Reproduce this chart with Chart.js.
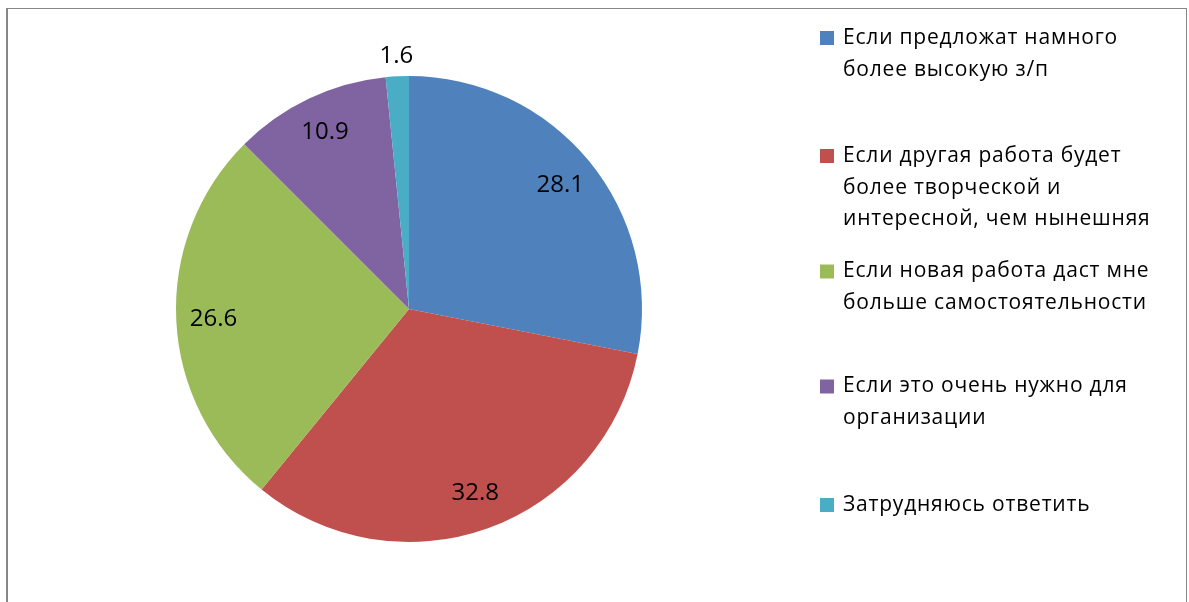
<!DOCTYPE html>
<html>
<head>
<meta charset="utf-8">
<script src="https://cdn.jsdelivr.net/npm/chart.js@4/dist/chart.umd.min.js"></script>
<style>
  html, body { margin: 0; padding: 0; background: #ffffff; }
  #wrap { position: relative; width: 1189px; height: 602px; }
</style>
</head>
<body>
<div id="wrap"><canvas id="chart" width="1189" height="602"></canvas></div>
<script>
// Categories (multi-line legend labels) and shares (%)
const categories = [
  ['Если предложат намного', 'более высокую з/п'],
  ['Если другая работа будет', 'более творческой и', 'интересной, чем нынешняя'],
  ['Если новая работа даст мне', 'больше самостоятельности'],
  ['Если это очень нужно для', 'организации'],
  ['Затрудняюсь ответить']
];
const shares = [28.1, 32.8, 26.6, 10.9, 1.6];

// Slice colours
const palette = ['#4F81BD', '#C0504D', '#9BBB59', '#8064A2', '#4BACC6'];

const FONT = "'Open Sans', 'Noto Sans', sans-serif";

// Frame around the chart
const framePlugin = {
  id: 'frame',
  beforeDraw(chart) {
    const ctx = chart.ctx;
    ctx.save();
    ctx.fillStyle = '#ffffff';
    ctx.fillRect(0, 0, chart.width, chart.height);
    ctx.fillStyle = '#878787';
    ctx.fillRect(6, 8, 2, chart.height - 8);
    ctx.fillRect(6, 8, 1181, 1);
    ctx.fillRect(1186, 8, 1, chart.height - 8);
    ctx.restore();
  }
};

// Value labels on the slices; thin slices get their label outside the rim
const valueLabels = {
  id: 'valueLabels',
  afterDatasetsDraw(chart) {
    const ctx = chart.ctx;
    const meta = chart.getDatasetMeta(0);
    const data = chart.data.datasets[0].data;
    ctx.save();
    ctx.font = '24px ' + FONT;
    ctx.fillStyle = '#000000';
    ctx.textAlign = 'center';
    ctx.textBaseline = 'middle';
    meta.data.forEach((arc, i) => {
      const p = arc.getProps(['x', 'y', 'startAngle', 'endAngle', 'outerRadius'], true);
      const mid = (p.startAngle + p.endAngle) / 2;
      const span = p.endAngle - p.startAngle;
      const r = span < 0.3 ? p.outerRadius + 20 : p.outerRadius * 0.84;
      ctx.fillText(String(data[i]), p.x + Math.cos(mid) * r, p.y + Math.sin(mid) * r);
    });
    ctx.restore();
  }
};

// Legend on the right, one row per category line
const sideLegend = {
  id: 'sideLegend',
  afterDraw(chart, args, opts) {
    const ctx = chart.ctx;
    const labels = chart.data.labels;
    const colors = chart.data.datasets[0].backgroundColor;
    ctx.save();
    ctx.font = opts.fontSize + 'px ' + FONT;
    if ('letterSpacing' in ctx) ctx.letterSpacing = opts.letterSpacing + 'px';
    ctx.textBaseline = 'middle';
    ctx.textAlign = 'left';
    labels.forEach((label, i) => {
      const lines = Array.isArray(label) ? label : [label];
      const y0 = opts.rows[i];
      ctx.fillStyle = colors[i];
      ctx.fillRect(opts.boxX, y0 - 7, 14, 14);
      ctx.fillStyle = '#000000';
      lines.forEach((ln, k) => ctx.fillText(ln, opts.textX, y0 + k * opts.lineHeight));
    });
    ctx.restore();
  }
};

new Chart(document.getElementById('chart'), {
  type: 'pie',
  data: {
    labels: categories,
    datasets: [{
      data: shares,
      backgroundColor: palette,
      borderWidth: 0
    }]
  },
  options: {
    responsive: false,
    animation: false,
    layout: { padding: { left: 176, right: 547, top: 76, bottom: 60 } },
    plugins: {
      legend: { display: false },
      tooltip: { enabled: false },
      sideLegend: {
        fontSize: 21,
        letterSpacing: 0.8,
        boxX: 820,
        textX: 843,
        lineHeight: 31.7,
        rows: [38, 156, 271.5, 386.5, 505]
      }
    }
  },
  plugins: [framePlugin, valueLabels, sideLegend]
});
</script>
</body>
</html>
